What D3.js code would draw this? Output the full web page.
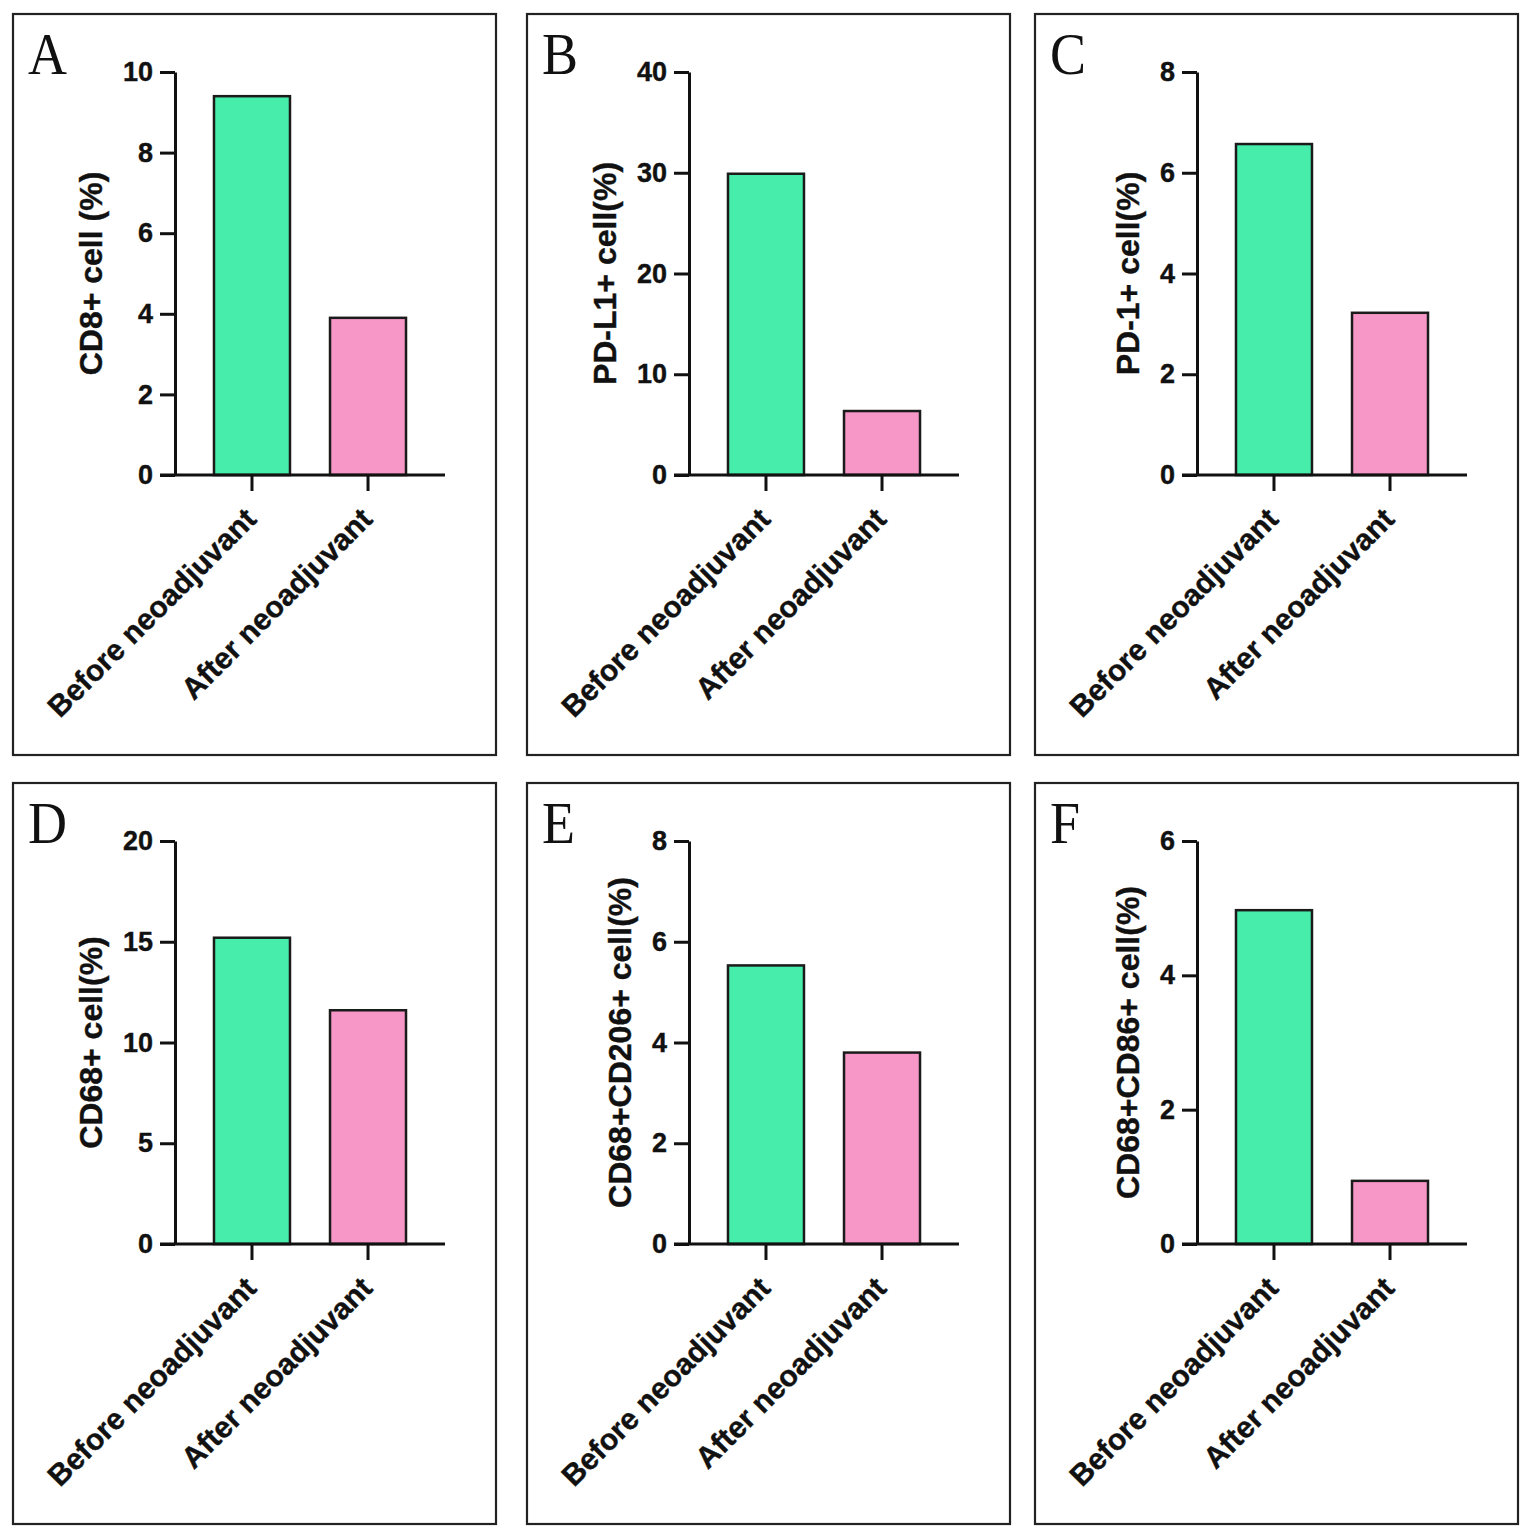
<!DOCTYPE html>
<html>
<head>
<meta charset="utf-8">
<script src="https://cdn.jsdelivr.net/npm/d3@7"></script>
<style>
  html, body { margin: 0; padding: 0; background: #fff; }
  svg { display: block; }
  .tick text { font-family: "Liberation Sans", Arial, sans-serif; font-weight: bold; }
</style>
</head>
<body>
<script>
// ---- data ----
const panelLetters = ["A", "B", "C", "D", "E", "F"];
const yLabels = ["CD8+ cell (%)", "PD-L1+ cell(%)", "PD-1+ cell(%)", "CD68+ cell(%)", "CD68+CD206+ cell(%)", "CD68+CD86+ cell(%)"];
const categories = ["Before neoadjuvant", "After neoadjuvant"];
const beforeValues = [9.4, 29.9, 6.57, 15.2, 5.53, 4.97];
const afterValues = [3.9, 6.35, 3.22, 11.6, 3.8, 0.94];
const yMax = [10, 40, 8, 20, 8, 6];
const yTickValues = [
  [0, 2, 4, 6, 8, 10],
  [0, 10, 20, 30, 40],
  [0, 2, 4, 6, 8],
  [0, 5, 10, 15, 20],
  [0, 2, 4, 6, 8],
  [0, 2, 4, 6]
];
const barColors = ["#46EDAB", "#F797C7"];

// ---- layout ----
const W = 1535, H = 1535;
const boxLefts = [13, 527, 1035];
const boxTops = [14, 783];
const boxW = 483, boxH = 741;
const axisOffX = 162, axisTopOff = 58, axisBotOff = 461;
const xAxisLen = 270;

const svg = d3.select("body").append("svg").attr("width", W).attr("height", H);

panelLetters.forEach((letter, i) => {
  const bx = boxLefts[i % 3], by = boxTops[Math.floor(i / 3)];
  const g = svg.append("g").attr("transform", `translate(${bx},${by})`);

  g.append("rect").attr("x", 0).attr("y", 0).attr("width", boxW).attr("height", boxH)
    .attr("fill", "none").attr("stroke", "#222").attr("stroke-width", 2.2);

  g.append("text").text(letter)
    .attr("transform", "translate(15,60) scale(1,1.08)")
    .attr("font-family", "'Liberation Serif', 'Times New Roman', serif")
    .attr("font-size", 54).attr("fill", "#111");

  const y = d3.scaleLinear().domain([0, yMax[i]]).range([axisBotOff, axisTopOff]);
  const x = d3.scaleBand().domain(categories).range([axisOffX, axisOffX + xAxisLen])
    .paddingInner(0.345).paddingOuter(0.336);

  const data = categories.map((c, k) => ({ cat: c, v: k === 0 ? beforeValues[i] : afterValues[i], color: barColors[k] }));

  // bars
  g.selectAll("rect.bar").data(data).enter().append("rect").attr("class", "bar")
    .attr("x", d => x(d.cat)).attr("width", x.bandwidth())
    .attr("y", d => y(d.v)).attr("height", d => y(0) - y(d.v))
    .attr("fill", d => d.color).attr("stroke", "#1b1b1b").attr("stroke-width", 2.5);

  // y axis
  const yAxisG = g.append("g").attr("transform", `translate(${axisOffX},0)`)
    .call(d3.axisLeft(y).tickValues(yTickValues[i]).tickFormat(d3.format("d"))
      .tickSize(15).tickSizeOuter(0).tickPadding(7));
  yAxisG.select(".domain").attr("stroke", "#111").attr("stroke-width", 3);
  yAxisG.selectAll(".tick line").attr("stroke", "#111").attr("stroke-width", 3);
  yAxisG.selectAll(".tick text").attr("font-size", 27).attr("fill", "#111")
    .attr("stroke", "#111").attr("stroke-width", 0.4);

  // x axis
  g.append("line").attr("x1", axisOffX - 15).attr("x2", axisOffX + xAxisLen)
    .attr("y1", y(0)).attr("y2", y(0)).attr("stroke", "#111").attr("stroke-width", 3);
  const xAxisG = g.append("g").attr("transform", `translate(0,${y(0)})`)
    .call(d3.axisBottom(x).tickSize(16).tickSizeOuter(0));
  xAxisG.select(".domain").remove();
  xAxisG.selectAll(".tick line").attr("stroke", "#111").attr("stroke-width", 3);
  xAxisG.selectAll(".tick text")
    .attr("font-size", 30).attr("fill", "#111")
    .attr("stroke", "#111").attr("stroke-width", 0.4)
    .attr("text-anchor", "end")
    .attr("x", 0).attr("y", 0).attr("dy", 0)
    .attr("transform", "translate(6,46) rotate(-45)");

  // y label
  let minLeft = Infinity;
  yAxisG.selectAll(".tick text").each(function () {
    const b = this.getBBox();
    const left = axisOffX + (+d3.select(this).attr("x")) - b.width;
    if (left < minLeft) minLeft = left;
  });
  const labelX = minLeft - 21;
  g.append("text").text(yLabels[i])
    .attr("transform", `translate(${labelX},${(axisTopOff + axisBotOff) / 2}) rotate(-90)`)
    .attr("text-anchor", "middle")
    .attr("font-family", "'Liberation Sans', Arial, sans-serif")
    .attr("font-weight", "bold").attr("font-size", 32).attr("fill", "#111")
    .attr("stroke", "#111").attr("stroke-width", 0.4);
});
</script>
</body>
</html>
